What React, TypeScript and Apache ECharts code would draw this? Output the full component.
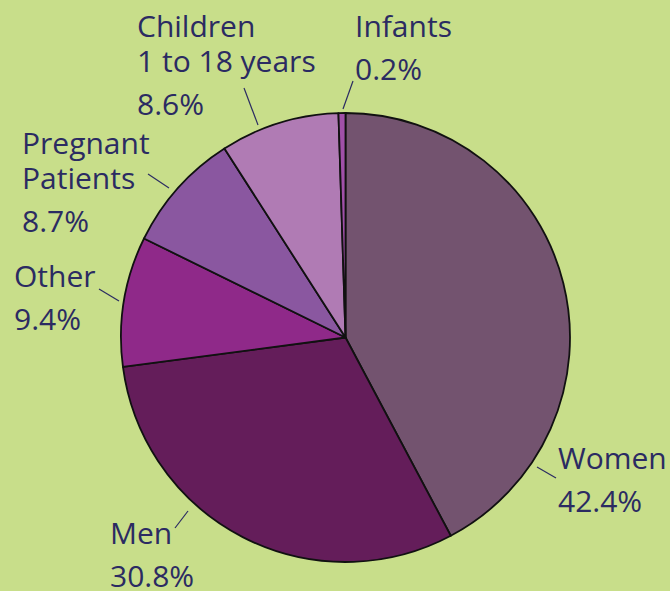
import React, { useEffect, useRef } from "react";
import * as echarts from "echarts";

const categories = ["Women", "Men", "Other", "Pregnant\nPatients", "Children\n1 to 18 years", "Infants"];
const shares = [42.4, 30.8, 9.4, 8.7, 8.6, 0.2];
const sliceColors = ["#73536f", "#641d5a", "#8f2989", "#8a57a0", "#b07bb4", "#a050a8"];

// label placement (left, top) and leader lines [start, end] in px
const labelPos = [
  [558, 440],
  [110, 515],
  [14, 258],
  [22, 125],
  [137, 8],
  [355, 8],
];
const leaderLines = [
  [[537, 467], [556, 478]],
  [[188, 511], [175, 528]],
  [[119, 301], [99, 289]],
  [[169, 188], [148, 174]],
  [[258, 125], [244, 88]],
  [[343, 109], [353, 81]],
];

const TEXT = "#2b2b62";

export default function App() {
  const ref = useRef<HTMLDivElement>(null);
  useEffect(() => {
    document.body.style.margin = "0";
    const chart = echarts.init(ref.current!, null, { renderer: "svg" });
    chart.setOption({
      animation: false,
      backgroundColor: "#c8de8a",
      series: [
        {
          type: "pie",
          center: [345.5, 337.5],
          radius: [0, 224.5],
          startAngle: 90,
          clockwise: true,
          minAngle: 1.8,
          avoidLabelOverlap: false,
          emphasis: { disabled: true },
          itemStyle: { borderColor: "#111", borderWidth: 1.8 },
          data: categories.map((c, i) => ({
            name: c,
            value: shares[i],
            itemStyle: { color: sliceColors[i] },
          })),
          label: {
            show: true,
            position: "outside",
            formatter: (p: any) => `{n|${p.name}}\n{v|${p.value.toFixed(1)}%}`,
            rich: {
              n: { fontFamily: "Open Sans", fontSize: 30, color: TEXT, lineHeight: 35 },
              v: { fontFamily: "Open Sans", fontSize: 30, color: TEXT, lineHeight: 51 },
            },
          },
          labelLine: { show: true, lineStyle: { color: TEXT, width: 1.2 } },
          labelLayout: (p: any) => {
            const i = p.dataIndex;
            const [a, b] = leaderLines[i];
            return {
              x: labelPos[i][0],
              y: labelPos[i][1],
              align: "left",
              verticalAlign: "top",
              labelLinePoints: [a, b, b],
            };
          },
        },
      ],
    });
    return () => chart.dispose();
  }, []);
  return <div ref={ref} style={{ width: 670, height: 591 }} />;
}
